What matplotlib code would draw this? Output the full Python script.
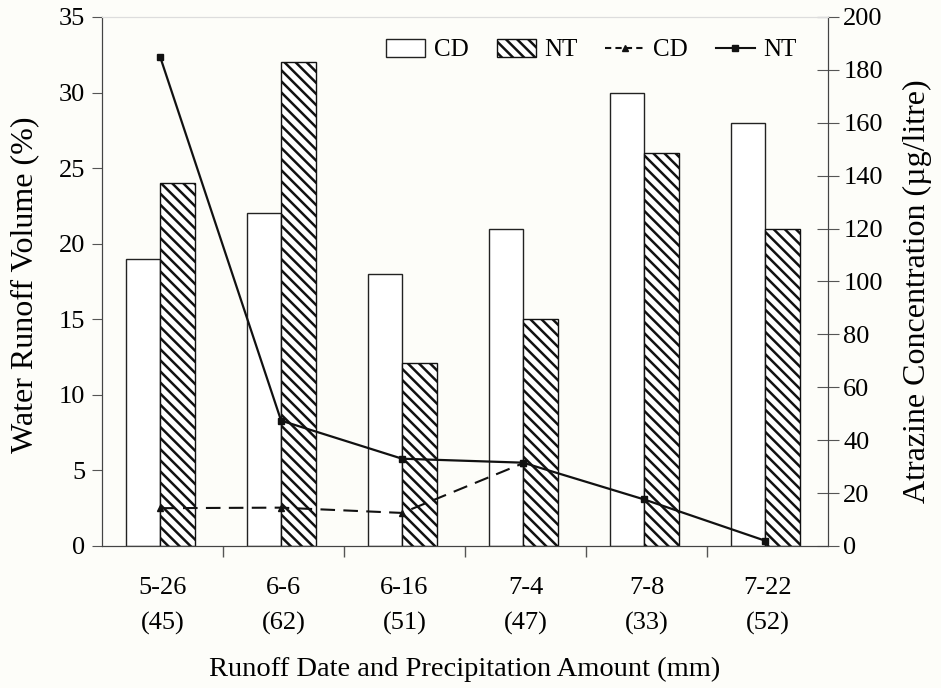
import matplotlib
matplotlib.use("Agg")
import matplotlib.pyplot as plt
import numpy as np
from matplotlib.patches import Patch
from matplotlib.lines import Line2D

dates = ["5-26", "6-6", "6-16", "7-4", "7-8", "7-22"]
precip = ["(45)", "(62)", "(51)", "(47)", "(33)", "(52)"]
runoff_cd = [19, 22, 18, 21, 30, 28]
runoff_nt = [24, 32, 12.1, 15, 26, 21]
atrazine_cd = [14.3, 14.5, 12.5, 31.3, np.nan, np.nan]
atrazine_nt = [185, 47.4, 33, 31.5, 17.6, 2]

plt.rcParams['font.family'] = ['Liberation Serif', 'DejaVu Serif']
plt.rcParams['hatch.linewidth'] = 1.8
bg = '#fdfdf9'

fig = plt.figure(figsize=(9.41, 6.88), dpi=100, facecolor=bg)
ax = fig.add_axes([0.1084, 0.2064, 0.88 - 0.1084, 0.9753 - 0.2064])
ax.set_facecolor(bg)
ax2 = ax.twinx()

x = np.arange(len(dates))
w = 0.285
off = -0.02
ax.bar(x + off - w / 2, runoff_cd, w, facecolor='white', edgecolor='#222222', linewidth=1.0)
ax.bar(x + off + w / 2, runoff_nt, w, facecolor='white', edgecolor='#111111', linewidth=1.0, hatch='\\\\\\')

ax2.plot(x + off, atrazine_cd, color='#111111', linestyle=(0, (7, 4)), linewidth=1.5,
         marker='^', markersize=5)
ax2.plot(x + off, atrazine_nt, color='#111111', linestyle='-', linewidth=1.6,
         marker='s', markersize=5)

ax.set_xlim(-0.5, len(dates) - 0.5)
ax.set_ylim(0, 35)
ax2.set_ylim(0, 200)
ax.set_yticks(np.arange(0, 36, 5))
ax2.set_yticks(np.arange(0, 201, 20))

ax.set_xticks(x)
ax.set_xticklabels([f"{d}\n{p}" for d, p in zip(dates, precip)], linespacing=1.75)
ax.set_xticks(np.arange(0.5, len(dates) - 0.5, 1), minor=True)
ax.tick_params(axis='x', which='major', length=0, pad=22, labelsize=19)
ax.tick_params(axis='x', which='minor', length=8, width=1.0, direction='out', color='#555555')
ax.tick_params(axis='y', length=7, width=0.8, direction='out', labelsize=19, pad=5, color='#555555')
ax2.tick_params(axis='y', length=16, width=0.8, direction='inout', labelsize=19, pad=3, color='#555555')

for a in (ax, ax2):
    a.spines['top'].set_color('#dddddd')
    a.spines['left'].set_color('#444444')
    a.spines['right'].set_color('#444444')
    a.spines['bottom'].set_color('#444444')

ax.set_ylabel("Water Runoff Volume (%)", fontsize=23, labelpad=14.5)
ax.yaxis.label.set_y(0.494)
ax2.set_ylabel("Atrazine Concentration (µg/litre)", fontsize=23, labelpad=14)
ax2.yaxis.label.set_y(0.482)
ax.set_xlabel("Runoff Date and Precipitation Amount (mm)", fontsize=20.5, labelpad=16)

handles = [
    Patch(facecolor='white', edgecolor='#222222', label='CD'),
    Patch(facecolor='white', edgecolor='#111111', hatch='\\\\\\', label='NT'),
    Line2D([], [], color='#111111', linestyle=(0, (3, 2)), marker='^', markersize=5, linewidth=1.5, label='CD'),
    Line2D([], [], color='#111111', linestyle='-', marker='s', markersize=5, linewidth=1.5, label='NT'),
]
ax2.legend(handles=handles, ncol=4, loc='center right', bbox_to_anchor=(807 / 941, 1 - 50 / 688),
           bbox_transform=fig.transFigure, borderaxespad=0, frameon=False,
           fontsize=18, handlelength=1.56, handleheight=0.75, handletextpad=0.36, columnspacing=1.1)

fig.savefig("out.png", dpi=100, facecolor=bg)
